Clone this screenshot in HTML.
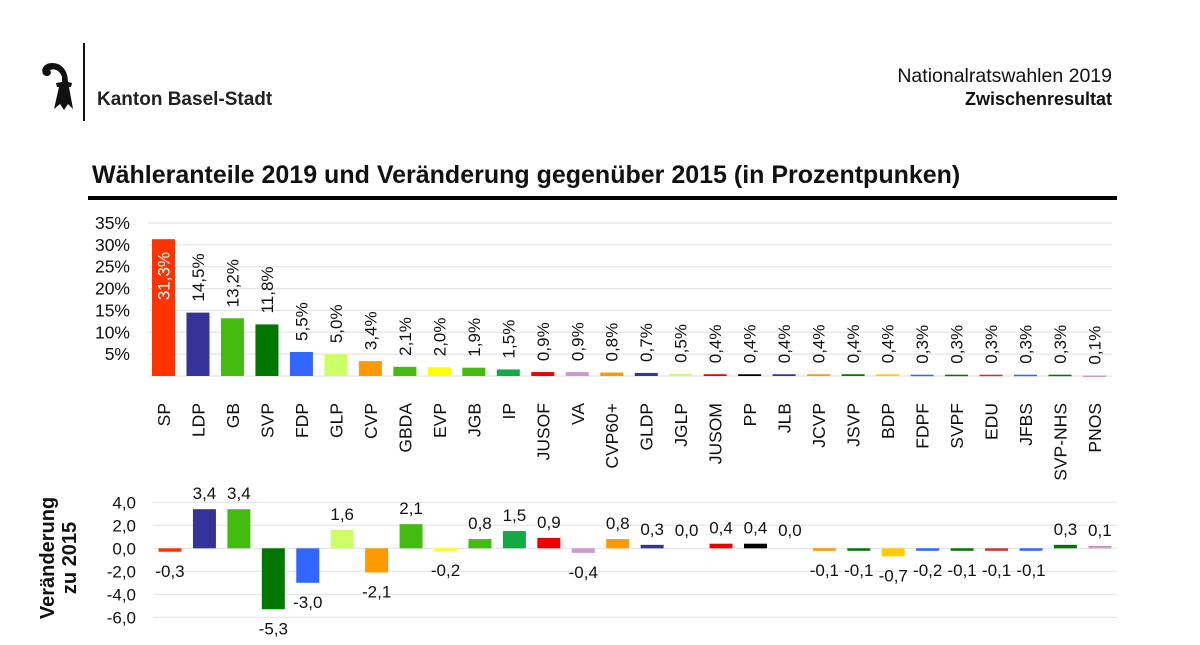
<!DOCTYPE html>
<html><head><meta charset="utf-8"><style>
html,body{margin:0;padding:0;background:#fff;}
svg{display:block;font-family:"Liberation Sans",Arial,sans-serif;}
</style></head><body>
<svg id="chart" width="1200" height="645" viewBox="0 0 1200 645" xmlns="http://www.w3.org/2000/svg">
  <g>
    <path d="M52 63 C43 63 40 71 44 75 C48 78 53 74 50 70 C55 68 60 71 62 77 L62 82 L56 83 L57 87 L59 87 L54 109 L60 104 L64 110 L68 104 L73 109 L69 87 L71 87 L72 83 L68 82 C68 71 62 63 52 63 Z" fill="#111"/>
  </g>
  <line x1="84" y1="43" x2="84" y2="121" stroke="#111" stroke-width="2"/>
  <text x="97" y="105" font-size="19" font-weight="bold" fill="#222">Kanton Basel-Stadt</text>
  <text x="1112" y="82" font-size="19.5" text-anchor="end" fill="#111">Nationalratswahlen 2019</text>
  <text x="1112" y="105" font-size="18" font-weight="bold" text-anchor="end" fill="#111">Zwischenresultat</text>
  <text x="92" y="183" font-size="25" font-weight="bold" fill="#111">Wähleranteile 2019 und Veränderung gegenüber 2015 (in Prozentpunken)</text>
  <rect x="88" y="196" width="1029" height="4" fill="#000"/>
  <g font-size="20" font-weight="bold" fill="#111" text-anchor="middle">
    <text transform="translate(54,558) rotate(-90)">Veränderung</text>
    <text transform="translate(76,558) rotate(-90)">zu  2015</text>
  </g>
  <g id="topChart"></g>
  <g id="botChart"></g>
</svg>
<script>
const parties = ["SP","LDP","GB","SVP","FDP","GLP","CVP","GBDA","EVP","JGB","IP","JUSOF","VA","CVP60+","GLDP","JGLP","JUSOM","PP","JLB","JCVP","JSVP","BDP","FDPF","SVPF","EDU","JFBS","SVP-NHS","PNOS"];
const shares = [31.3,14.5,13.2,11.8,5.5,5.0,3.4,2.1,2.0,1.9,1.5,0.9,0.9,0.8,0.7,0.5,0.4,0.4,0.4,0.4,0.4,0.4,0.3,0.3,0.3,0.3,0.3,0.1];
const changes = [-0.3,3.4,3.4,-5.3,-3.0,1.6,-2.1,2.1,-0.2,0.8,1.5,0.9,-0.4,0.8,0.3,0.0,0.4,0.4,0.0,-0.1,-0.1,-0.7,-0.2,-0.1,-0.1,-0.1,0.3,0.1];
const colors = ["#ff3300","#333399","#44bb11","#007700","#3366ff","#ccff66","#ff9900","#44bb11","#ffff00","#44bb11","#11aa44","#ee0000","#cc99cc","#ff9900","#333399","#ccff66","#ee0000","#000000","#333399","#ff9900","#007700","#ffcc00","#3366ff","#007700","#cc3333","#3366ff","#007700","#cc99cc"];
const shareTicks = [5,10,15,20,25,30,35];
const changeTicks = [4,2,0,-2,-4,-6];

const NS="http://www.w3.org/2000/svg";
function mk(tag, attrs, parent, txt){const e=document.createElementNS(NS,tag);for(const k in attrs)e.setAttribute(k,attrs[k]);if(txt!==undefined)e.textContent=txt;parent.appendChild(e);return e;}
const fmt=(v,d)=>v.toFixed(d).replace('.',',');

const yTop=v=>376-v*(153/35);
const xTop=i=>163.5+i*34.48;
const topG=document.getElementById('topChart');
shareTicks.forEach(t=>{
  const g=mk('line',{x1:148,x2:1112,y1:yTop(t),y2:yTop(t),stroke:'#e4e4e4','stroke-width':1.2},topG);
  
  
  const l=mk('text',{x:130,y:yTop(t)+6,'font-size':17.5,'text-anchor':'end',fill:'#111'},topG,t+'%');
  
  
});
mk('line',{x1:148,x2:1112,y1:376,y2:376,stroke:'#e4e4e4','stroke-width':1.2},topG);
parties.forEach((p,i)=>{
  const x=xTop(i), h=shares[i]*(153/35), yt=yTop(shares[i]);
  const b=mk('rect',{x:x-11.5,y:yt,width:23,height:Math.max(h,1.5),fill:colors[i]},topG);
  
  
  const inside=h>80;
  const ly=inside?yt+61:yt-11;
  const v=mk('text',{transform:`translate(${x+6},${ly}) rotate(-90)`,'font-size':17,fill:inside?'#fff':'#111'},topG,fmt(shares[i],1)+'%');
  
  
  const c=mk('text',{transform:`translate(${x+6.5},403) rotate(-90)`,'font-size':17.5,'text-anchor':'end',fill:'#111'},topG,p);
  
  
});

const yBot=v=>548.3-v*(23/2);
const xBot=i=>170+i*34.44;
const botG=document.getElementById('botChart');
changeTicks.forEach(t=>{
  const g=mk('line',{x1:153,x2:1117,y1:yBot(t),y2:yBot(t),stroke:'#e4e4e4','stroke-width':1.2},botG);
  
  
  const l=mk('text',{x:136,y:yBot(t)+6,'font-size':17,'text-anchor':'end',fill:'#111'},botG,fmt(t,1));
  
  
});
parties.forEach((p,i)=>{
  const v=changes[i], x=xBot(i);
  const y0=yBot(0), y1=yBot(v);
  if(v!==0){
    const h=Math.max(Math.abs(y1-y0),2.5);
    const b=mk('rect',{x:x-11.5,y:v>0?y0-h:y0,width:23,height:h,fill:colors[i]},botG);
    
    
  }
  const ly = v>=0 ? Math.min(y1,y0-2.5)-10 : Math.max(y1,y0+2.5)+25;
  const t=mk('text',{x:x,y:ly,'font-size':17,'text-anchor':'middle',fill:'#111'},botG,fmt(v,1));
  
  
});
</script>
</body></html>
